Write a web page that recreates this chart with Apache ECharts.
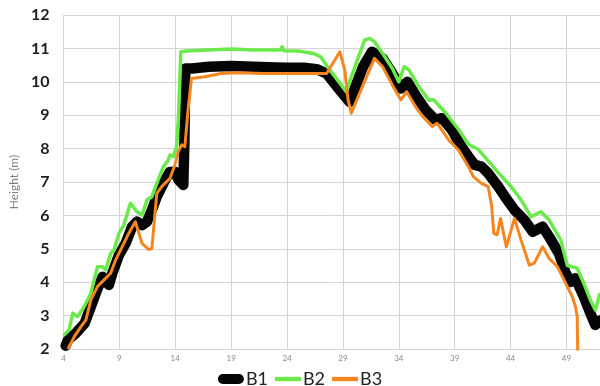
<!DOCTYPE html>
<html>
<head>
<meta charset="utf-8">
<script src="https://cdn.jsdelivr.net/npm/echarts@6/dist/echarts.min.js"></script>
<style>
html,body{margin:0;padding:0;background:#fff;}
#c{width:600px;height:386px;}
</style>
</head>
<body>
<div id="c"></div>
<script>
// ---- data ----
const seriesNames = ['B1', 'B2', 'B3'];
const xTicks = [4, 9, 14, 19, 24, 29, 34, 39, 44, 49];

const b1X = [4.2, 4.4, 5.1, 5.9, 6.45, 7.0, 7.5, 8.07, 8.37, 8.96, 9.55, 10.14, 10.58, 11.03, 11.47, 11.91, 12.35, 12.94, 13.5, 13.97, 14.3, 14.72, 14.82, 14.9, 15.5, 17.0, 19.0, 21.0, 23.0, 24.0, 25.5, 26.65, 27.54, 28.73, 29.6, 30.8, 31.6, 32.55, 33.43, 34.18, 34.77, 35.5, 36.4, 37.27, 37.87, 38.75, 39.6, 40.23, 40.8, 41.4, 42.0, 42.9, 43.5, 44.35, 45.24, 45.98, 46.87, 47.45, 48.33, 48.93, 49.37, 49.8, 50.55, 51.14, 51.58, 52.0];
const b1Y = [2.1, 2.27, 2.47, 2.77, 3.27, 3.77, 4.16, 3.92, 4.27, 4.81, 5.16, 5.66, 5.81, 5.71, 5.81, 6.16, 6.56, 6.96, 7.3, 7.31, 7.06, 6.91, 8.2, 10.4, 10.4, 10.45, 10.47, 10.45, 10.43, 10.42, 10.42, 10.38, 10.25, 9.75, 9.4, 10.45, 10.9, 10.7, 10.25, 9.8, 10.0, 9.6, 9.16, 8.86, 8.91, 8.56, 8.06, 7.76, 7.51, 7.46, 7.26, 6.86, 6.56, 6.16, 5.86, 5.51, 5.66, 5.36, 4.86, 4.27, 4.01, 4.12, 3.57, 3.07, 2.72, 2.85];

const b2X = [4.0, 4.5, 4.83, 5.27, 5.86, 6.45, 7.04, 7.49, 7.78, 8.22, 8.51, 8.96, 9.4, 9.99, 10.58, 11.03, 11.47, 11.91, 12.35, 12.94, 13.38, 13.53, 13.82, 14.12, 14.3, 14.5, 15.0, 17.0, 19.0, 21.0, 23.4, 23.56, 23.7, 25.0, 26.36, 27.0, 27.84, 28.73, 29.3, 29.75, 30.94, 31.38, 31.82, 32.55, 33.43, 34.0, 34.48, 34.92, 35.8, 36.69, 37.13, 38.16, 39.34, 40.23, 41.1, 42.0, 42.9, 43.77, 44.06, 44.95, 45.83, 46.72, 47.45, 48.49, 49.08, 49.96, 50.55, 51.14, 51.58, 52.0];
const b2Y = [2.4, 2.57, 3.07, 2.97, 3.27, 3.67, 4.46, 4.46, 4.37, 4.86, 4.96, 5.46, 5.71, 6.36, 6.11, 6.01, 6.46, 6.56, 6.96, 7.46, 7.66, 7.81, 7.76, 8.06, 9.0, 10.9, 10.92, 10.95, 10.98, 10.95, 10.95, 11.05, 10.93, 10.92, 10.85, 10.75, 10.35, 9.96, 9.7, 10.15, 11.25, 11.3, 11.2, 10.85, 10.4, 10.0, 10.45, 10.35, 9.85, 9.45, 9.46, 9.08, 8.58, 8.13, 7.98, 7.63, 7.28, 6.96, 6.86, 6.46, 5.96, 6.11, 5.86, 5.26, 4.5, 4.42, 3.97, 3.47, 3.17, 3.67];

const b3X = [4.4, 4.97, 5.57, 6.01, 6.45, 7.04, 7.63, 8.22, 8.66, 9.25, 9.84, 10.43, 11.03, 11.61, 11.91, 12.35, 12.79, 13.53, 13.97, 14.27, 14.57, 14.86, 15.15, 15.45, 15.6, 16.63, 18.1, 19.57, 21.9, 24.0, 26.0, 27.54, 28.73, 29.17, 29.46, 29.75, 30.5, 31.82, 32.55, 33.43, 34.18, 34.7, 35.5, 36.1, 36.98, 37.42, 38.46, 39.34, 40.23, 40.67, 41.4, 42.0, 42.3, 42.5, 42.8, 43.1, 43.62, 44.35, 44.94, 45.68, 46.12, 46.87, 47.45, 48.2, 48.78, 49.52, 49.8, 49.96, 50.03];
const b3Y = [2.0, 2.37, 2.67, 2.87, 3.47, 3.87, 4.07, 4.27, 4.66, 5.06, 5.46, 5.81, 5.16, 4.98, 5.01, 6.66, 6.86, 7.11, 7.51, 7.91, 8.11, 8.06, 9.16, 10.1, 10.15, 10.15, 10.25, 10.27, 10.25, 10.25, 10.25, 10.25, 10.9, 10.35, 9.46, 9.06, 9.66, 10.7, 10.45, 9.9, 9.46, 9.7, 9.25, 8.98, 8.66, 8.76, 8.26, 7.96, 7.46, 7.16, 6.96, 6.86, 6.3, 5.46, 5.42, 5.91, 5.06, 5.91, 5.26, 4.51, 4.57, 5.06, 4.71, 4.46, 4.07, 3.57, 3.27, 2.97, 1.5];

// ---- chart ----
function pairs(xs, ys) { return xs.map((x, i) => [x, ys[i]]); }

const chart = echarts.init(document.getElementById('c'), null, {renderer: 'canvas'});
const gridColor = '#d4d4d4';
chart.setOption({
  animation: false,
  backgroundColor: '#ffffff',
  grid: {left: 57, right: 0, top: 15, bottom: 37, containLabel: false},
  xAxis: {
    type: 'value',
    min: xTicks[0],
    max: 52,
    interval: xTicks[1] - xTicks[0],
    axisLine: {show: true, lineStyle: {color: gridColor, width: 1}},
    axisTick: {show: false},
    splitLine: {show: true, lineStyle: {color: gridColor, width: 1}},
    axisLabel: {
      show: true, showMaxLabel: false, margin: 5,
      color: '#8a8a8a', fontSize: 8, fontFamily: 'Lato, sans-serif',
      formatter: v => (xTicks.indexOf(v) >= 0 ? String(v) : '')
    }
  },
  yAxis: {
    type: 'value',
    min: 2, max: 12, interval: 1,
    name: 'Height (m)',
    nameLocation: 'middle',
    nameGap: 40,
    nameTextStyle: {color: '#808080', fontSize: 12, fontFamily: 'Lato, sans-serif'},
    axisLine: {show: false},
    axisTick: {show: false},
    splitLine: {show: true, lineStyle: {color: gridColor, width: 1}},
    axisLabel: {color: '#1e1e1e', fontSize: 16, fontWeight: 'bold', fontFamily: 'Lato, sans-serif', margin: 14}
  },
  legend: {
    show: true,
    top: 365,
    left: 'center',
    itemWidth: 26,
    itemHeight: 11,
    itemGap: 7,
    textStyle: {color: '#222', fontSize: 18, fontFamily: 'Lato, sans-serif', padding: [0, 0, 0, -3]},
    itemStyle: {borderWidth: 0},
    data: [
      {name: seriesNames[0], icon: 'path://M5,0 H21 A5,5 0 0 1 21,10 H5 A5,5 0 0 1 5,0 Z'},
      {name: seriesNames[1], icon: 'path://M0,0 H24 V4 H0 Z'},
      {name: seriesNames[2], icon: 'path://M0,0 H24 V4 H0 Z'}
    ]
  },
  series: [
    {
      name: seriesNames[0], type: 'line', data: pairs(b1X, b1Y),
      showSymbol: false, symbol: 'none', color: '#050505',
      lineStyle: {width: 10.5, color: '#050505', cap: 'round', join: 'round'}
    },
    {
      name: seriesNames[1], type: 'line', data: pairs(b2X, b2Y),
      showSymbol: false, symbol: 'none', color: '#6ae94a',
      lineStyle: {width: 3.5, color: '#6ae94a', join: 'round'}
    },
    {
      name: seriesNames[2], type: 'line', data: pairs(b3X, b3Y),
      showSymbol: false, symbol: 'none', color: '#f5861f',
      lineStyle: {width: 3, color: '#f5861f', join: 'round'}
    }
  ]
});
</script>
</body>
</html>
